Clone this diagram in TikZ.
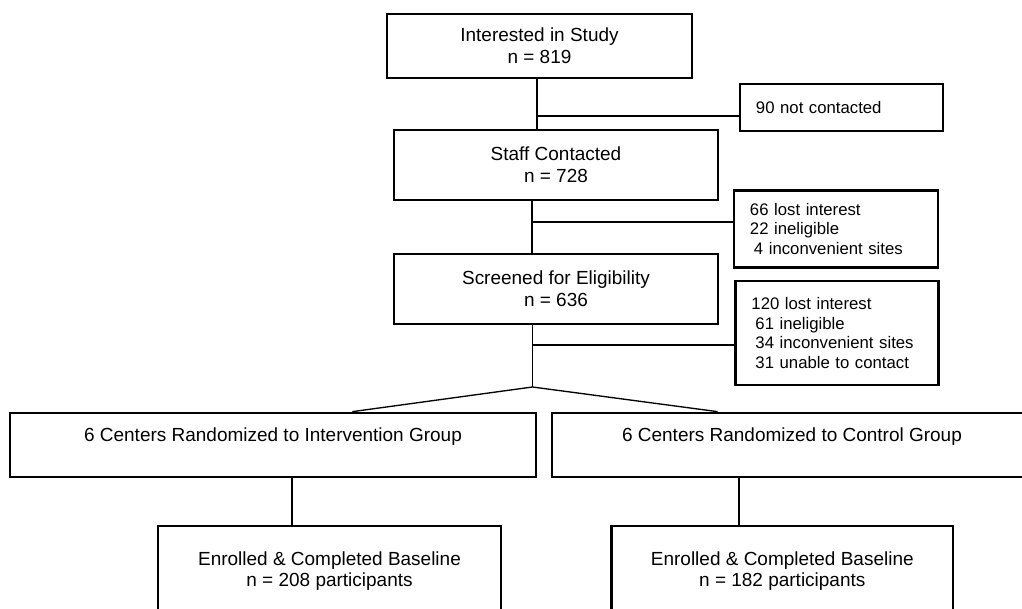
\documentclass[tikz,border=0pt]{standalone}
\usepackage{fontspec}
\setmainfont{Liberation Sans}
\usetikzlibrary{calc}
\begin{document}
\begin{tikzpicture}[x=0.025cm,y=-0.025cm,
  box/.style={draw,line width=1.9pt,inner sep=0pt,align=center,font=\fontsize{13.5}{15.4}\selectfont},
  side/.style={draw,line width=1.9pt,inner xsep=0.4cm,inner ysep=0pt,align=left,font=\fontsize{11.9}{13.8}\selectfont},
  link/.style={line width=0.95pt},
  branch/.style={line width=1.4pt}]
\clip (0,0) rectangle (1022,609);

\node[box,minimum width=7.625cm,minimum height=1.6cm] (study) at (539.5,46) {Interested in Study\\n = 819};
\node[box,minimum width=8.1cm,minimum height=1.75cm] (contacted) at (556,165) {Staff Contacted\\n = 728};
\node[box,minimum width=8.1cm,minimum height=1.75cm] (screened) at (556,289) {Screened for Eligibility\\n = 636};

\node[side,minimum width=5.075cm,minimum height=1.175cm,text width=4.275cm] (notcont) at (841.5,107.5) {90 not contacted};
\node[side,minimum width=5.1cm,minimum height=1.925cm,text width=4.3cm] (lost1) at (836,229) {66 lost interest\\22 ineligible\\\hspace*{0.1cm}4 inconvenient sites};
\node[side,minimum width=5.075cm,minimum height=2.6cm,text width=4.275cm] (lost2) at (837,333) {120 lost interest\\\hspace*{0.1cm}61 ineligible\\\hspace*{0.1cm}34 inconvenient sites\\\hspace*{0.1cm}31 unable to contact};

\node[box,minimum width=13.15cm,minimum height=1.6cm] (rand1) at (273,445) {6 Centers Randomized to Intervention Group\\~};
\node[box,minimum width=12cm,minimum height=1.6cm] (rand2) at (792,445) {6 Centers Randomized to Control Group\\~};

\node[box,minimum width=8.575cm,minimum height=2.25cm] (base1) at (329.5,571) {Enrolled \& Completed Baseline\\n = 208 participants};
\node[box,minimum width=8.525cm,minimum height=2.25cm] (base2) at (782.3,571) {Enrolled \& Completed Baseline\\n = 182 participants};

\coordinate (j1) at (537,116);
\coordinate (j2) at (532,222);
\coordinate (j3) at (532.5,345);
\coordinate (apex) at (532.5,387);
\coordinate (d1) at (292,0);
\coordinate (d2) at (739,0);

\draw[link] (j1 |- study.south) -- (j1 |- contacted.north);
\draw[branch] (j1) -- (j1 -| notcont.west);
\draw[link] (j2 |- contacted.south) -- (j2 |- screened.north);
\draw[branch] (j2) -- (j2 -| lost1.west);
\draw[link] (j3 |- screened.south) -- (apex);
\draw[branch] (j3) -- (j3 -| lost2.west);
\draw[link] ($(rand1.north west)!0.65!(rand1.north east)$) -- (apex) -- ($(rand2.north west)!0.346!(rand2.north east)$);
\draw[link] (d1 |- rand1.south) -- (d1 |- base1.north);
\draw[link] (d2 |- rand2.south) -- (d2 |- base2.north);
\end{tikzpicture}
\end{document}
